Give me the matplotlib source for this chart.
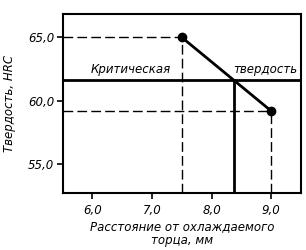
import matplotlib
matplotlib.use("Agg")
import matplotlib.pyplot as plt
from matplotlib.ticker import FuncFormatter

# data
x_pts = [7.5, 9.0]          # distance from quenched end, mm
hrc_pts = [65.0, 59.2]      # hardness, HRC
critical_hrc = 61.6
x_ticks = [6.0, 7.0, 8.0, 9.0]
y_ticks = [55.0, 60.0, 65.0]

# where the critical line crosses the curve
x_crit = x_pts[0] + (hrc_pts[0] - critical_hrc) / (hrc_pts[0] - hrc_pts[1]) * (x_pts[1] - x_pts[0])

plt.rcParams['font.family'] = 'DejaVu Sans'
plt.rcParams['font.style'] = 'italic'

fig = plt.figure(figsize=(3.06, 2.5), dpi=100)
ax = fig.add_axes([0.205, 0.227, 0.778, 0.717])
ax.set_xlim(5.5, 9.5)
ax.set_ylim(52.7, 66.84)

# dashed guides
for xp, yp in zip(x_pts, hrc_pts):
    ax.plot([5.5, xp], [yp, yp], color='black', lw=1.0, ls=(0, (7, 3)))
    ax.plot([xp, xp], [52.7, yp], color='black', lw=1.0, ls=(0, (7, 3)))

# critical hardness line and its projection
ax.axhline(critical_hrc, color='black', lw=2.0)
ax.plot([x_crit, x_crit], [52.7, critical_hrc], color='black', lw=2.0)

ax.plot(x_pts, hrc_pts, color='black', lw=2.0, marker='o', ms=6)

ax.text(6.65, critical_hrc + 0.35, 'Критическая', fontsize=8.5, ha='center', va='bottom')
ax.text(8.9, critical_hrc + 0.35, 'твердость', fontsize=8.5, ha='center', va='bottom')

ax.set_xticks(x_ticks)
ax.set_yticks(y_ticks)
fmt = FuncFormatter(lambda v, p: ('%.1f' % v).replace('.', ','))
ax.xaxis.set_major_formatter(fmt)
ax.yaxis.set_major_formatter(fmt)
ax.tick_params(direction='out', length=4, width=1.2, labelsize=8.5, pad=2)
ax.tick_params(axis='x', pad=4)

for s in ax.spines.values():
    s.set_linewidth(1.5)

ax.set_ylabel('Твердость, HRC', fontsize=8.5, labelpad=9)
ax.set_xlabel('Расстояние от охлаждаемого\nторца, мм', fontsize=8.5, labelpad=2, linespacing=1.05)

fig.savefig('out.png', dpi=100)
